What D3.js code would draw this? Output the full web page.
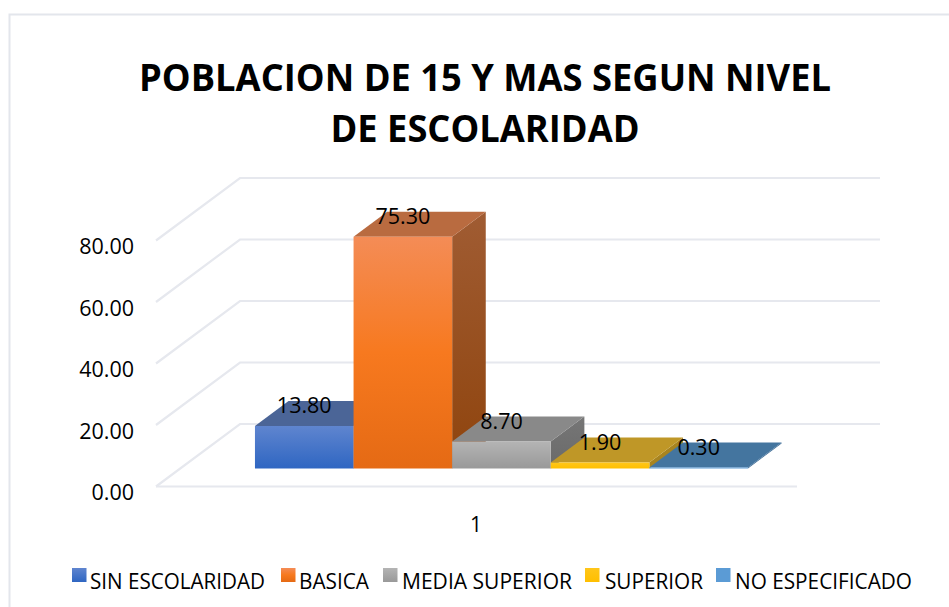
<!DOCTYPE html>
<html><head><meta charset="utf-8">
<script src="https://cdn.jsdelivr.net/npm/d3@7/dist/d3.min.js"></script>
<style>html,body{margin:0;padding:0;background:#fff}svg{display:block}text{fill:#000}</style>
</head><body><svg id="c" width="949" height="607"></svg>
<script>
const titleLines = ["POBLACION DE 15 Y MAS SEGUN NIVEL", "DE ESCOLARIDAD"];
const categories = ["SIN ESCOLARIDAD", "BASICA", "MEDIA SUPERIOR", "SUPERIOR", "NO ESPECIFICADO"];
const values = [13.8, 75.3, 8.7, 1.9, 0.3];
const valueLabels = ["13.80", "75.30", "8.70", "1.90", "0.30"];
const yTicks = [0, 20, 40, 60, 80];
const xLabels = ["1"];
const frontColors = [["#5f85cf","#2f66c2"],["#f48c56","#f7791f","#e56a14"],["#b4b4b4","#999999"],["#ffc61a","#ffbf00"],["#5b9bd5","#5b9bd5"]];
const topColors = ["#4b6597","#b96b40","#898989","#bf9727","#44759f"];
const sideColors = [["#3d5a94","#2f4f8f"],["#a05c33","#8f440d"],["#767676","#6a6a6a"],["#a8841f","#a8841f"],["#3c6a94","#3c6a94"]];
const legendSwatchX = [72, 281, 383, 585, 716];
const legendTextX = [90, 299, 402, 605, 735];
const legendWidths = [175, 70, 170, 98, 177];
const titleWidths = [692, 309];

const font = "'Open Sans', sans-serif";
const svg = d3.select("#c");
const defs = svg.append("defs");

svg.append("path").attr("d", "M9.5,607V14.5H949").attr("fill","none").attr("stroke","#e3e6ec").attr("stroke-width",2);

svg.append("g").selectAll("text").data(titleLines).join("text")
  .attr("x", 485).attr("y", (d,i)=> 90.5 + i*51.5)
  .attr("text-anchor","middle").attr("font-family",font).attr("font-weight",700)
  .attr("font-size",38).attr("textLength",(d,i)=>titleWidths[i]).attr("lengthAdjust","spacingAndGlyphs").text(d=>d);

const y = d3.scaleLinear().domain([0,80]).range([0,-246]);
const depthX = d3.scaleLinear().domain([0,1]).range([0,84]);
const depthY = d3.scaleLinear().domain([0,1]).range([0,-62.5]);
const x0 = 156, y0 = 486.5, floorW = 641;
const pt = (px, v, z) => [x0 + px + depthX(z), y0 + y(v) + depthY(z)];
const line = d3.line();

const grid = svg.append("g").attr("fill","none").attr("stroke","#e6e8ee").attr("stroke-width",2.2);
grid.selectAll("path").data(yTicks).join("path")
  .attr("d", t => line([pt(0,t,0), pt(0,t,1), pt(floorW - 1 ,t,1)]));
grid.append("path").attr("d", line([pt(0,0,0), pt(floorW,0,0)]));

svg.append("g").selectAll("text").data(yTicks).join("text")
  .attr("x",134).attr("y", t => y0 + y(t) + 13.5)
  .attr("text-anchor","end").attr("font-family",font).attr("font-size",21.5)
  .text(t => d3.format(".2f")(t));

const band = d3.scaleBand().domain(categories).range([74.6, 567.6]);
const zF = 0.29, zB = 0.69;
const bars = svg.append("g");
categories.forEach((c,i) => {
  const g = defs.append("linearGradient").attr("id","f"+i).attr("x1",0).attr("y1",0).attr("x2",0).attr("y2",1);
  frontColors[i].forEach((col,k,a)=> g.append("stop").attr("offset",k/(a.length-1)).attr("stop-color",col));
  const s = defs.append("linearGradient").attr("id","s"+i).attr("x1",0).attr("y1",0).attr("x2",0).attr("y2",1);
  sideColors[i].forEach((col,k,a)=> s.append("stop").attr("offset",k/(a.length-1)).attr("stop-color",col));
});
categories.forEach((c,i) => {
  const v = values[i];
  const l = band(c), r = l + band.bandwidth();
  const g = bars.append("g");
  g.append("path").attr("fill",`url(#s${i})`)
    .attr("d", line([pt(r,0,zF),pt(r,v,zF),pt(r,v,zB),pt(r,0,zB)])+"Z");
  g.append("path").attr("fill",topColors[i])
    .attr("d", line([pt(l,v,zF),pt(r,v,zF),pt(r,v,zB),pt(l,v,zB)])+"Z");
  g.append("path").attr("fill",`url(#f${i})`)
    .attr("d", line([pt(l,0,zF),pt(r,0,zF),pt(r,v,zF),pt(l,v,zF)])+"Z");
});
svg.append("g").selectAll("text").data(categories).join("text")
  .attr("x",(c)=> pt(band(c)+band.bandwidth()/2,0,zF)[0])
  .attr("y",(c,i)=> pt(0,values[i],zF)[1] - 12.5)
  .attr("text-anchor","middle").attr("font-family",font).attr("font-size",21.5)
  .text((c,i)=>valueLabels[i]);

svg.append("text").attr("x",476).attr("y",531.5).attr("text-anchor","middle")
  .attr("font-family",font).attr("font-size",21).text(xLabels[0]);

const leg = svg.append("g");
categories.forEach((c,i)=>{
  const g = defs.append("linearGradient").attr("id","l"+i).attr("x1",0).attr("y1",0).attr("x2",0).attr("y2",1);
  frontColors[i].forEach((col,k,a)=> g.append("stop").attr("offset",k/(a.length-1)).attr("stop-color",col));
  leg.append("rect").attr("x",legendSwatchX[i]).attr("y",568).attr("width",14.5).attr("height",14).attr("fill",`url(#l${i})`);
  leg.append("text").attr("x",legendTextX[i]).attr("y",588.5).attr("font-family",font).attr("font-size",21)
    .attr("textLength", legendWidths[i]).attr("lengthAdjust","spacingAndGlyphs").text(c);
});
</script></body></html>
